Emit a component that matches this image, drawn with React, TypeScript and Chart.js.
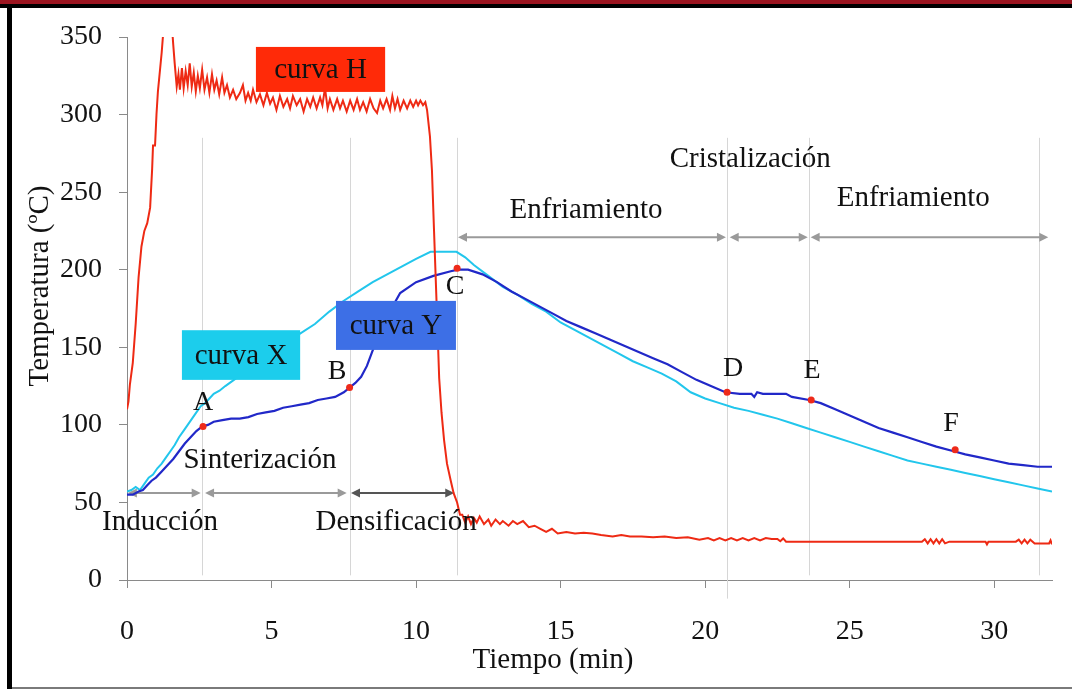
import React, { useEffect, useRef } from "react";
import { Chart, registerables } from "chart.js";

Chart.register(...registerables);

// ---- Curve H (red) ----
const hTime = [
  0, 0.05, 0.1, 0.2, 0.3, 0.4, 0.5, 0.6, 0.7, 0.8, 0.87, 0.9, 0.97, 1.02, 1.07, 1.2, 1.25, 1.3, 1.55, 1.6, 1.65,
  1.72, 1.78, 1.83, 1.9, 1.96, 2.03, 2.1, 2.17, 2.24, 2.31, 2.38, 2.45, 2.52, 2.6, 2.68, 2.77, 2.85, 2.94, 3.02, 3.1,
  3.19, 3.29, 3.37, 3.46, 3.56, 3.67, 3.78, 3.91, 4.01, 4.1, 4.19, 4.28, 4.36, 4.48, 4.6, 4.72, 4.84, 4.95, 5.05, 5.17,
  5.29, 5.41, 5.54, 5.64, 5.74, 5.87, 5.99, 6.11, 6.23, 6.34, 6.44, 6.56, 6.68, 6.76, 6.85, 6.94, 7.02, 7.14, 7.27,
  7.37, 7.47, 7.6, 7.72, 7.84, 7.96, 8.06, 8.17, 8.29, 8.41, 8.53, 8.65, 8.76, 8.86, 8.98, 9.1, 9.18, 9.27, 9.36, 9.45,
  9.57, 9.69, 9.8, 9.9, 10.0, 10.07, 10.15, 10.24, 10.32, 10.38,
  10.48, 10.55, 10.62, 10.73, 10.8, 10.88, 10.97, 11.07, 11.2, 11.3, 11.42, 11.52,
  11.6, 11.7, 11.8, 11.9, 12.0, 12.1, 12.2, 12.35, 12.5, 12.6, 12.75, 12.9, 13.0, 13.2, 13.35, 13.5, 13.7, 13.9, 14.1,
  14.3, 14.5, 14.7, 14.9, 15.2, 15.5, 15.8, 16.1, 16.4, 16.8, 17.1, 17.4, 17.8, 18.2, 18.6, 19.0, 19.4, 19.8, 20.1, 20.3,
  20.5, 20.7, 20.9, 21.1, 21.3, 21.5, 21.7, 21.9, 22.1, 22.3, 22.5, 22.6, 22.7, 22.8, 27.5, 27.6, 27.7, 27.8, 27.9, 28.0,
  28.1, 28.2, 28.3, 28.45, 29.7, 29.75, 29.8, 30.75, 30.85, 30.95, 31.05, 31.15, 31.25, 31.4, 31.9, 31.95, 32.0,
];
const hTemp = [
  110, 115, 126, 140, 165, 195, 215, 225, 230, 240, 265, 280, 280, 300, 315, 340, 352, 358, 358, 345, 333,
  318, 326, 316, 330, 317, 328, 319, 333, 318, 327, 315, 325, 317, 329, 316, 324, 314, 326, 316, 322,
  313, 324, 314, 319, 311, 316, 310, 314, 319, 309, 314, 309, 316, 308, 313, 306, 314, 307, 311, 303,
  312, 305, 310, 304, 312, 306, 310, 302, 310, 305, 311, 304, 311, 306, 317, 304, 310, 303, 310,
  304, 309, 302, 309, 303, 310, 303, 308, 302, 310, 304, 301, 309, 304, 310, 303, 312, 304, 310, 303,
  309, 304, 309, 305, 309, 306, 309, 306, 308, 303,
  286, 264, 226, 168, 130, 108, 90, 75, 64, 56, 50, 42,
  42, 37, 41, 36, 40, 37, 41, 36, 39, 35, 39, 36, 38, 35, 38, 36, 38, 34, 35,
  33, 31, 33, 30, 31, 30, 30.5, 30, 29, 28, 29, 28, 28, 27.5, 28, 27, 27.5, 26, 27, 25.5,
  27, 25.5, 27, 25.5, 27, 25.5, 27, 25.5, 27, 26.5, 26.5, 25, 26.8, 24.7, 24.7, 26.3, 23.6, 26.3, 23.6, 26.3,
  23.6, 26.3, 23.6, 24.7, 24.7, 23.0, 24.7, 24.7, 26.0, 23.6, 26.0, 23.6, 26.0, 23.5, 23.5, 25.5, 23.0,
];

// ---- Curve X (cyan) ----
const xTime = [
  0, 0.15, 0.3, 0.45, 0.6, 0.75, 0.9, 1.05, 1.2, 1.35, 1.5, 1.65, 1.8, 1.95, 2.1, 2.25, 2.4, 2.55, 2.7, 2.85, 3.0, 3.2,
  3.4, 3.7, 4.5, 5.0, 5.5, 6.0, 6.5, 7.0, 7.5, 8.0, 8.5, 9.0, 9.5, 10.0, 10.5, 11.4, 11.7, 12.0, 12.5, 13.0, 13.5, 14.0,
  14.5, 15.0, 15.5, 16.0, 16.5, 17.0, 17.5, 18.0, 18.5, 19.0, 19.5, 20.0, 20.5, 21.0, 21.5, 22.0, 22.5, 23.0, 23.5, 24.0,
  24.5, 25.0, 25.5, 26.0, 26.5, 27.0, 27.5, 28.0, 28.5, 29.0, 29.5, 30.0, 30.5, 31.0, 31.5, 32.0,
];
const xTemp = [
  57, 58, 60, 58, 62, 66, 68, 72, 75, 79, 83, 87, 92, 96, 100, 104, 108, 112, 114, 117, 120, 122,
  125, 129, 140, 147, 153, 159, 165, 173, 180, 186, 192, 197, 202, 207, 211.5, 211.5, 208, 203, 196, 189, 184, 178,
  173, 166, 161, 156, 151, 146, 141, 137, 133, 128, 121, 117, 114, 111, 109, 106.5, 104, 101, 98, 95,
  92, 89, 86, 83, 80, 77, 75, 73, 71, 69, 67, 65, 63, 61, 59, 57,
];

// ---- Curve Y (blue) ----
const yTime = [
  0, 0.2, 0.4, 0.55, 0.7, 0.85, 1.0, 1.2, 1.4, 1.6, 1.8, 2.0, 2.2, 2.4, 2.6, 2.8, 3.0, 3.3, 3.6, 3.9, 4.2, 4.5, 4.8,
  5.1, 5.4, 5.7, 6.0, 6.3, 6.6, 6.9, 7.2, 7.5, 7.7, 7.9, 8.1, 8.3, 8.5, 9.0, 9.45, 10.0, 10.6, 11.2, 11.45, 11.8, 12.3,
  12.8, 13.3, 13.7, 14.2, 14.7, 15.2, 15.7, 16.2, 16.7, 17.2, 17.7, 18.2, 18.7, 19.2, 19.7, 20.2, 20.7, 21.2, 21.6,
  21.7, 21.8, 22.0, 22.8, 23.0, 23.6, 24.0, 24.5, 25.0, 25.5, 26.0, 26.5, 27.0, 27.5, 28.0, 28.6, 29.0, 29.5, 30.0,
  30.5, 31.0, 31.5, 32.0,
];
const yTemp = [
  55, 55, 57, 58, 61, 64, 66, 70, 74, 78, 83, 88, 92, 96, 99, 100, 102, 103, 104, 104, 105, 107, 108,
  109, 111, 112, 113, 114, 116, 117, 118, 121, 124, 127, 131, 138, 148, 170, 185, 192, 196, 199, 200, 200, 197,
  192, 186, 182, 177, 172, 167, 163, 159, 155, 151, 147, 143, 139, 134, 129, 125, 121, 120, 120,
  118, 121, 120, 120, 118, 116, 114, 110, 106, 102, 98, 95, 92, 89, 86, 83, 81, 79, 77,
  75, 74, 73, 73,
];

// ---- Marked points A..F ----
const markNames = ["A", "B", "C", "D", "E", "F"];
const markTime = [2.63, 7.7, 11.42, 20.76, 23.67, 28.65];
const markTemp = [99, 124, 201, 121, 116, 84];
const markLabelTime = [2.63, 7.27, 11.35, 20.97, 23.7, 28.51];
const markLabelTemp = [114, 134, 189, 136, 135, 101];

// ---- Phase boundaries ----
const boundaryTime = [2.6, 7.72, 11.42, 20.76, 23.6, 31.55];
const boundaryBottom = [3, 3, 3, -12, 3, 3];
const boundaryTop = 285;

// ---- Phase arrows ----
const arrowFrom = [0.03, 2.7, 7.75, 11.45, 20.85, 23.65];
const arrowTo = [2.55, 7.6, 11.32, 20.72, 23.55, 31.87];
const arrowTemp = [56, 56, 56, 221, 221, 221];
const arrowColor = ["#9a9a9a", "#9a9a9a", "#555555", "#9a9a9a", "#9a9a9a", "#9a9a9a"];

// ---- Phase names ----
const phaseNames = ["Inducción", "Sinterización", "Densificación", "Enfriamiento", "Cristalización", "Enfriamiento"];
const phaseTime = [1.14, 4.6, 9.31, 15.88, 21.56, 27.2];
const phaseTemp = [37, 77, 37, 238, 271, 246];

// ---- Curve name boxes ----
const curveNames = ["curva H", "curva X", "curva Y"];
const curveBoxX0 = [4.46, 1.9, 7.23];
const curveBoxX1 = [8.93, 5.99, 11.38];
const curveBoxY0 = [314.6, 129, 148.3];
const curveBoxY1 = [343.6, 161, 179.9];
const curveBoxColor = ["#ff2a08", "#1ccdec", "#3d6fe6"];

// ---- Axis ticks ----
const xTickStep = 5;
const yTickStep = 50;

const SERIF = "'Liberation Serif', 'Times New Roman', serif";

const pairs = (t: number[], v: number[]) => t.map((tt, i) => ({ x: tt, y: v[i] }));

const annotations = {
  id: "annotations",
  beforeDatasetsDraw(chart: any) {
    const { ctx, scales } = chart;
    const x = scales.x;
    const y = scales.y;
    ctx.save();
    ctx.strokeStyle = "#d6d6d6";
    ctx.lineWidth = 1;
    boundaryTime.forEach((t, i) => {
      const px = Math.round(x.getPixelForValue(t)) + 0.5;
      ctx.beginPath();
      ctx.moveTo(px, y.getPixelForValue(boundaryTop));
      ctx.lineTo(px, y.getPixelForValue(boundaryBottom[i]));
      ctx.stroke();
    });
    const head = 9;
    const half = 4.5;
    arrowFrom.forEach((t0, i) => {
      const x0 = x.getPixelForValue(t0);
      const x1 = x.getPixelForValue(arrowTo[i]);
      const py = y.getPixelForValue(arrowTemp[i]);
      ctx.strokeStyle = arrowColor[i];
      ctx.fillStyle = arrowColor[i];
      ctx.lineWidth = 2;
      ctx.beginPath();
      ctx.moveTo(x0 + head - 1, py);
      ctx.lineTo(x1 - head + 1, py);
      ctx.stroke();
      ctx.beginPath();
      ctx.moveTo(x0, py);
      ctx.lineTo(x0 + head, py - half);
      ctx.lineTo(x0 + head, py + half);
      ctx.closePath();
      ctx.fill();
      ctx.beginPath();
      ctx.moveTo(x1, py);
      ctx.lineTo(x1 - head, py - half);
      ctx.lineTo(x1 - head, py + half);
      ctx.closePath();
      ctx.fill();
    });
    ctx.restore();
  },
  afterDatasetsDraw(chart: any) {
    const { ctx, scales } = chart;
    const x = scales.x;
    const y = scales.y;
    ctx.save();
    ctx.textAlign = "center";
    ctx.textBaseline = "middle";
    // curve name boxes
    curveNames.forEach((name, i) => {
      const l = x.getPixelForValue(curveBoxX0[i]);
      const r = x.getPixelForValue(curveBoxX1[i]);
      const t = y.getPixelForValue(curveBoxY1[i]);
      const b = y.getPixelForValue(curveBoxY0[i]);
      ctx.fillStyle = curveBoxColor[i];
      ctx.fillRect(l, t, r - l, b - t);
      ctx.fillStyle = "#111";
      ctx.font = `29px ${SERIF}`;
      ctx.fillText(name, (l + r) / 2, (t + b) / 2 + 1);
    });
    // phase names
    ctx.fillStyle = "#111";
    ctx.font = `29px ${SERIF}`;
    phaseNames.forEach((name, i) => {
      ctx.fillText(name, x.getPixelForValue(phaseTime[i]), y.getPixelForValue(phaseTemp[i]));
    });
    // point letters
    ctx.font = `28px ${SERIF}`;
    markNames.forEach((name, i) => {
      ctx.fillText(name, x.getPixelForValue(markLabelTime[i]), y.getPixelForValue(markLabelTemp[i]));
    });
    // axis titles
    ctx.font = `29px ${SERIF}`;
    ctx.fillText("Tiempo (min)", 553, 660);
    ctx.translate(40, 286);
    ctx.rotate(-Math.PI / 2);
    ctx.fillText("Temperatura (ºC)", 0, 0);
    ctx.restore();
  },
};

export default function App() {
  const canvasRef = useRef<HTMLCanvasElement | null>(null);

  useEffect(() => {
    const canvas = canvasRef.current;
    if (!canvas) return;
    const chart = new Chart(canvas, {
      type: "line",
      data: {
        datasets: [
          {
            label: "Puntos",
            data: pairs(markTime, markTemp),
            showLine: false,
            pointRadius: 3.5,
            pointBackgroundColor: "#ee2a1a",
            pointBorderWidth: 0,
            borderColor: "#ee2a1a",
          },
          {
            label: "curva H",
            data: pairs(hTime, hTemp),
            borderColor: "#ee2a14",
            borderWidth: 2,
            pointRadius: 0,
            tension: 0,
          },
          {
            label: "curva Y",
            data: pairs(yTime, yTemp),
            borderColor: "#2128c8",
            borderWidth: 2.2,
            pointRadius: 0,
            tension: 0,
          },
          {
            label: "curva X",
            data: pairs(xTime, xTemp),
            borderColor: "#22c6ec",
            borderWidth: 2,
            pointRadius: 0,
            tension: 0,
          },
        ],
      },
      options: {
        animation: false,
        responsive: false,
        devicePixelRatio: 1,
        layout: { padding: { left: 0, right: 20, top: 37, bottom: 0 } },
        plugins: { legend: { display: false }, tooltip: { enabled: false } },
        scales: {
          x: {
            type: "linear",
            min: 0,
            max: 32,
            afterFit: (s: any) => {
              s.height = 109;
            },
            ticks: {
              stepSize: xTickStep,
              includeBounds: false,
              padding: 27,
              color: "#111",
              font: { family: SERIF, size: 28 },
              maxRotation: 0,
            },
            grid: { drawOnChartArea: false, drawTicks: true, tickLength: 8, color: "#8a8a8a" },
            border: { display: true, color: "#8a8a8a", width: 1 },
          },
          y: {
            type: "linear",
            min: 0,
            max: 350,
            afterFit: (s: any) => {
              s.width = 127;
            },
            ticks: {
              stepSize: yTickStep,
              padding: 17,
              color: "#111",
              font: { family: SERIF, size: 28 },
            },
            grid: { drawOnChartArea: false, drawTicks: true, tickLength: 8, color: "#8a8a8a" },
            border: { display: true, color: "#8a8a8a", width: 1 },
          },
        },
      },
      plugins: [annotations],
    });
    return () => chart.destroy();
  }, []);

  return (
    <div style={{ position: "fixed", left: 0, top: 0, width: 1072, height: 689, background: "#fff", overflow: "hidden" }}>
      <canvas ref={canvasRef} width={1072} height={689} style={{ position: "absolute", left: 0, top: 0, display: "block" }} />
      <div style={{ position: "absolute", left: 0, top: 0, width: 1072, height: 4, background: "#9b1520" }} />
      <div style={{ position: "absolute", left: 0, top: 4, width: 1072, height: 4, background: "#000" }} />
      <div style={{ position: "absolute", left: 7, top: 8, width: 5, height: 681, background: "#000" }} />
      <div style={{ position: "absolute", left: 12, top: 687, width: 1060, height: 2, background: "#7a7a7a" }} />
    </div>
  );
}
